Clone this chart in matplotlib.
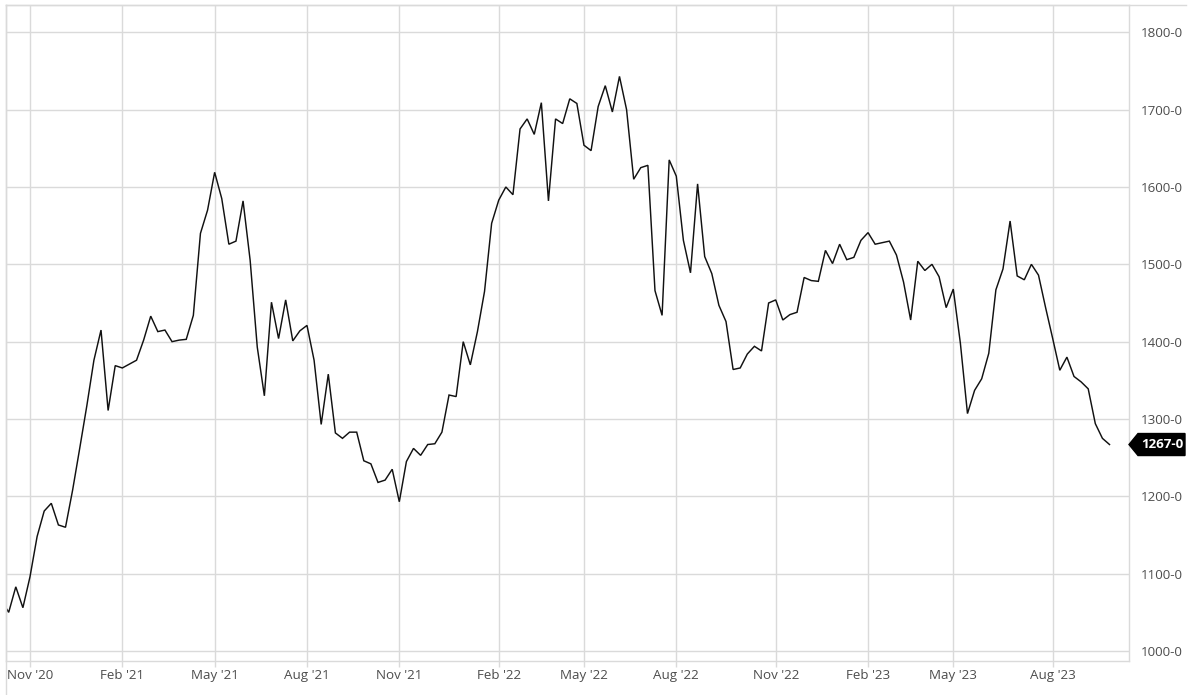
import matplotlib
matplotlib.use("Agg")
import matplotlib.pyplot as plt
import matplotlib.dates as mdates
from matplotlib.patches import Polygon
from matplotlib.lines import Line2D
import pandas as pd
import numpy as np

# ---- data (weekly, Mondays) ----
start_date = "2020-10-05"
values = [
    1065, 1050, 1083, 1056, 1096, 1148, 1181, 1191, 1163, 1160,
    1208, 1262, 1317, 1376, 1415, 1311, 1369, 1366, 1371, 1376,
    1402, 1433, 1413, 1415, 1400, 1402, 1403, 1434, 1540, 1570,
    1619, 1585, 1526, 1530, 1582, 1505, 1393, 1330, 1451, 1404,
    1454, 1401, 1414, 1421, 1376, 1293, 1358, 1282, 1275, 1283,
    1283, 1246, 1242, 1218, 1221, 1235, 1193, 1245, 1262, 1253,
    1267, 1268, 1283, 1331, 1329, 1400, 1370, 1413, 1465, 1553,
    1583, 1600, 1590, 1675, 1688, 1668, 1709, 1582, 1688, 1682,
    1714, 1708, 1654, 1647, 1704, 1731, 1697, 1743, 1700, 1610,
    1625, 1628, 1466, 1434, 1635, 1614, 1531, 1489, 1604, 1510,
    1488, 1447, 1426, 1364, 1366, 1384, 1394, 1388, 1450, 1454,
    1428, 1435, 1438, 1483, 1479, 1478, 1518, 1501, 1526, 1506,
    1509, 1531, 1541, 1526, 1528, 1530, 1512, 1477, 1428, 1504,
    1492, 1500, 1484, 1444, 1468, 1398, 1307, 1337, 1352, 1385,
    1467, 1494, 1556, 1485, 1480, 1500, 1486, 1444, 1404, 1363,
    1380, 1355, 1348, 1339, 1294, 1275, 1267,
]
y_ticks = [1000, 1100, 1200, 1300, 1400, 1500, 1600, 1700, 1800]
tick_months = [2, 5, 8, 11]
last_label = "1267-0"

dates = pd.date_range(start_date, periods=len(values), freq="7D")

# ---- figure ----
W, H = 1200, 695
fig = plt.figure(figsize=(W / 100, H / 100), dpi=100)
ax_l, ax_r, ax_t, ax_b = 6, 1129, 5, 661
ax = fig.add_axes([ax_l / W, (H - ax_b) / H, (ax_r - ax_l) / W, (ax_b - ax_t) / H])

grid_c = "#dadada"
text_c = "#4d4d4d"
font = "Open Sans"
fs = 9.6

ax.plot(dates, values, color="#111111", lw=1.05, solid_joinstyle="miter", zorder=3)

d0 = mdates.date2num(pd.Timestamp(start_date))
ax.set_xlim(d0 + 4.35, d0 + 1111.2)
ax.set_ylim(987.1, 1835.3)

# x ticks: first weekly point in Feb/May/Aug/Nov
s = pd.Series(dates)
first = s.groupby([s.dt.year, s.dt.month]).first()
xt = [d for d in first if d.month in tick_months]
ax.set_xticks(xt)
ax.set_xticklabels([d.strftime("%b '%y") for d in xt], fontfamily=font, fontsize=fs, color=text_c)

ax.yaxis.tick_right()
ax.set_yticks(y_ticks)
ax.set_yticklabels([f"{v}-0" for v in y_ticks], fontfamily=font, fontsize=fs, color=text_c)

ax.tick_params(axis="x", length=4.3, width=1, color=grid_c, pad=1.5)
ax.tick_params(axis="y", length=0, pad=8.6)

ax.grid(True, color=grid_c, lw=1)
ax.set_axisbelow(True)
for side in ["left", "right", "top", "bottom"]:
    ax.spines[side].set_color(grid_c)
    ax.spines[side].set_linewidth(1)

# extended frame lines
fig.add_artist(Line2D([ax_l / W, ax_l / W], [0.0, 1 - ax_t / H], color=grid_c, lw=1,
                      transform=fig.transFigure))
fig.add_artist(Line2D([ax_l / W, 1186 / W], [1 - ax_t / H, 1 - ax_t / H], color=grid_c, lw=1,
                      transform=fig.transFigure))

# last-value badge
fig.canvas.draw()
xr = ax.transAxes.transform((1.0, 0.0))[0]
yv = ax.transData.transform((d0, values[-1]))[1]
hh = 11
poly = Polygon([(xr, yv), (xr + 9, yv + hh), (xr + 56, yv + hh), (xr + 56, yv - hh), (xr + 9, yv - hh)],
               closed=True, facecolor="black", edgecolor="black", transform=None, zorder=10)
fig.add_artist(poly)
fig.text((xr + 33) / W, yv / H, last_label, color="white", fontweight="bold", fontsize=fs,
         fontfamily=font, ha="center", va="center", zorder=11)

fig.savefig("out.png", dpi=100)
